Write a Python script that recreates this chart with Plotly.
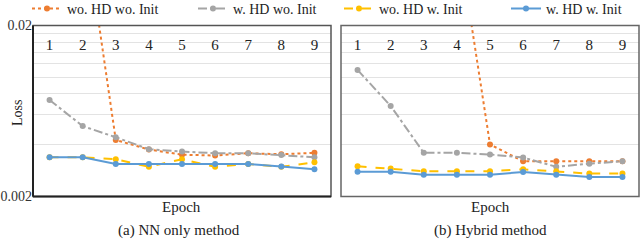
import math
import plotly.graph_objects as go

epochs = ["1", "2", "3", "4", "5", "6", "7", "8", "9"]

# (a) NN only method
nn_wo_hd_wo_init = [0.2, 0.092, 0.00428, 0.00376, 0.00351, 0.00347, 0.00358, 0.00353, 0.0036]
nn_w_hd_wo_init = [0.00734, 0.00516, 0.00444, 0.00378, 0.00366, 0.00358, 0.00358, 0.0035, 0.00339]
nn_wo_hd_w_init = [0.00339, 0.00339, 0.0033, 0.00298, 0.0033, 0.00298, 0.0031, 0.00298, 0.00317]
nn_w_hd_w_init = [0.00339, 0.00339, 0.0031, 0.0031, 0.0031, 0.0031, 0.0031, 0.00299, 0.00288]

# (b) Hybrid method
hy_wo_hd_wo_init = [0.5, 0.3, 0.15, 0.0723, 0.00403, 0.00321, 0.00321, 0.00321, 0.00321]
hy_w_hd_wo_init = [0.011, 0.00677, 0.0036, 0.0036, 0.00352, 0.00338, 0.00298, 0.00311, 0.00321]
hy_wo_hd_w_init = [0.003, 0.00291, 0.00281, 0.00281, 0.00281, 0.00288, 0.00281, 0.00272, 0.00272]
hy_w_hd_w_init = [0.00279, 0.00279, 0.00268, 0.00268, 0.00268, 0.00278, 0.00268, 0.0026, 0.0026]

series_names = ["wo. HD wo. Init", "w. HD wo. Init", "wo. HD w. Init", "w. HD w. Init"]
colors = ["#ED7D31", "#A5A5A5", "#FFC000", "#5B9BD5"]
dashes = ["dot", "dashdot", "dash", "solid"]

y_ticks = [0.002, 0.02]
y_ticktext = ["0.002", "0.02"]
y_minor = [0.004, 0.006, 0.008, 0.010, 0.012, 0.014, 0.016, 0.018]

FONT = "Liberation Serif, Times New Roman, serif"
W, H = 640, 240


def fy(px):
    return 1 - px / H


legend_ids = ["legend", "legend2", "legend3", "legend4"]
legend_x = [27, 193, 339, 506]

fig = go.Figure()
left = [nn_wo_hd_wo_init, nn_w_hd_wo_init, nn_wo_hd_w_init, nn_w_hd_w_init]
right = [hy_wo_hd_wo_init, hy_w_hd_wo_init, hy_wo_hd_w_init, hy_w_hd_w_init]
for i in range(4):
    fig.add_trace(go.Scatter(x=epochs, y=left[i], name=series_names[i], mode="lines+markers",
                             line=dict(color=colors[i], width=2, dash=dashes[i]),
                             marker=dict(color=colors[i], size=6, symbol="circle"),
                             xaxis="x", yaxis="y", legend=legend_ids[i],
                             legendgroup=str(i), showlegend=True))
for i in range(4):
    fig.add_trace(go.Scatter(x=epochs, y=right[i], name=series_names[i], mode="lines+markers",
                             line=dict(color=colors[i], width=2, dash=dashes[i]),
                             marker=dict(color=colors[i], size=6, symbol="circle"),
                             xaxis="x2", yaxis="y2", legend=legend_ids[i],
                             legendgroup=str(i), showlegend=False))

ydom = [fy(196.5), fy(25.5)]
yr = [math.log10(0.002) - 0.0005, math.log10(0.02) + 0.0005]
xdom1 = [33 / W, 331 / W]
xdom2 = [341 / W, 639 / W]


def xax(dom):
    # epoch labels sit inside the frame near its top: a free top axis placed below them
    return dict(domain=dom, type="category", range=[-0.5, 8.5], side="top",
                anchor="free", position=fy(53), ticks="",
                tickfont=dict(family=FONT, size=15, color="#222"), automargin=False,
                showgrid=False, zeroline=False, showline=False, fixedrange=True)


def yax(anchor, labels):
    return dict(domain=ydom, anchor=anchor, type="log", automargin=False,
                range=yr,
                tickmode="array", tickvals=y_ticks, ticktext=y_ticktext,
                showticklabels=labels, ticks="", ticklabeloverflow="allow",
                tickfont=dict(family=FONT, size=14, color="#333"),
                showgrid=False, zeroline=False, showline=False,
                minor=dict(tickmode="array", tickvals=y_minor, showgrid=True,
                           gridcolor="#E3E3E3", gridwidth=1, ticks=""))


legends = {}
for i, lid in enumerate(legend_ids):
    legends[lid] = dict(orientation="h", x=legend_x[i] / W, xanchor="left", y=1.03, yanchor="top",
                        itemwidth=30, font=dict(family=FONT, size=14, color="#222"),
                        bgcolor="rgba(0,0,0,0)", borderwidth=0)

shapes = [
    dict(type="rect", xref="x domain", yref="y domain", x0=0, x1=1, y0=0, y1=1,
         line=dict(color="#555", width=1.5), layer="above"),
    dict(type="line", xref="x domain", yref="y domain", x0=0, x1=0, y0=0, y1=1,
         line=dict(color="#222", width=2), layer="above"),
    dict(type="line", xref="x domain", yref="y domain", x0=0, x1=1, y0=0, y1=0,
         line=dict(color="#222", width=2), layer="above"),
    dict(type="rect", xref="x2 domain", yref="y2 domain", x0=0, x1=1, y0=0, y1=1,
         line=dict(color="#666", width=1.5), layer="above"),
]

ann_font = dict(family=FONT, size=15, color="#222")
fig.update_layout(
    template="none",
    width=W, height=H, margin=dict(l=0, r=0, t=0, b=0, autoexpand=False),
    paper_bgcolor="white", plot_bgcolor="white",
    font=dict(family=FONT, color="#222"),
    xaxis=xax(xdom1),
    yaxis=yax("x", True),
    xaxis2=xax(xdom2),
    yaxis2=yax("x2", False),
    showlegend=True,
    **legends,
    shapes=shapes,
    annotations=[
        dict(text="Loss", x=17 / W, y=fy(113), xref="paper", yref="paper", textangle=-90,
             xanchor="center", yanchor="middle",
             showarrow=False, font=dict(family=FONT, size=14, color="#222")),
        dict(text="Epoch", x=181 / W, y=fy(207), xref="paper", yref="paper",
             xanchor="center", yanchor="middle", showarrow=False, font=ann_font),
        dict(text="Epoch", x=490 / W, y=fy(207), xref="paper", yref="paper",
             xanchor="center", yanchor="middle", showarrow=False, font=ann_font),
        dict(text="(a) NN only method", x=179 / W, y=fy(230), xref="paper", yref="paper",
             xanchor="center", yanchor="middle", showarrow=False, font=ann_font),
        dict(text="(b) Hybrid method", x=490 / W, y=fy(230), xref="paper", yref="paper",
             xanchor="center", yanchor="middle", showarrow=False, font=ann_font),
    ],
)

fig.write_html("out.html", config={"displayModeBar": False},
               post_script="document.body.style.margin='0';document.body.style.padding='0';")
